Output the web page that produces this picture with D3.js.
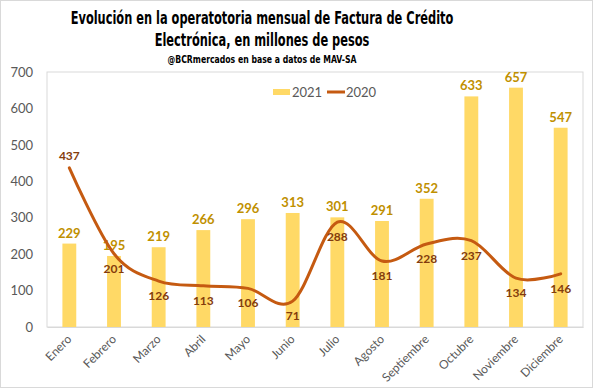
<!DOCTYPE html>
<html>
<head>
<meta charset="utf-8">
<script src="https://cdn.jsdelivr.net/npm/d3@7"></script>
<style>
  body { margin: 0; background: #fff; }
  svg text { font-family: Lato, "Liberation Sans", Arial, sans-serif; }
</style>
</head>
<body>
<div id="chart"></div>
<script>
const months = ["Enero", "Febrero", "Marzo", "Abril", "Mayo", "Junio", "Julio", "Agosto", "Septiembre", "Octubre", "Noviembre", "Diciembre"];
const values2021 = [229, 195, 219, 266, 296, 313, 301, 291, 352, 633, 657, 547];
const values2020 = [437, 201, 126, 113, 106, 71, 288, 181, 228, 237, 134, 146];
const yTicks = [0, 100, 200, 300, 400, 500, 600, 700];

const w = 593, h = 388;
const margin = {left: 47, right: 10, top: 72, bottom: 61};

const svg = d3.select("#chart").append("svg")
    .attr("width", w).attr("height", h);

svg.append("rect")
    .attr("x", 0.5).attr("y", 0.5)
    .attr("width", w - 1).attr("height", h - 1)
    .attr("fill", "#fff").attr("stroke", "#d9d9d9");

const x = d3.scaleBand()
    .domain(months)
    .range([margin.left, w - margin.right])
    .paddingInner(0.69).paddingOuter(0.345);

const y = d3.scaleLinear()
    .domain([0, 700])
    .range([h - margin.bottom, margin.top]);

// plot border
svg.append("rect")
    .attr("x", margin.left).attr("y", margin.top)
    .attr("width", w - margin.left - margin.right)
    .attr("height", h - margin.top - margin.bottom)
    .attr("fill", "none").attr("stroke", "#d9d9d9");

// titles (condensed: squeeze horizontally to the reference width)
const titleFont = "'Liberation Sans Narrow', 'DejaVu Sans Condensed', Arial, sans-serif";
const tx = 262;
const titleLine = (txt, yy, size, width) => {
    const g = svg.append("g");
    const t = g.append("text")
        .attr("text-anchor", "middle")
        .style("font-family", titleFont).style("font-weight", "bold").style("font-size", size + "px")
        .text(txt);
    const k = Math.min(1, width / t.node().getComputedTextLength());
    g.attr("transform", `translate(${tx},${yy}) scale(${k},1)`);
};
titleLine("Evolución en la operatotoria mensual de Factura de Crédito", 24, 18, 383);
titleLine("Electrónica, en millones de pesos", 46, 18, 215);
titleLine("@BCRmercados  en base a datos de MAV-SA", 63, 10, 189);

// y axis
const yAxis = svg.append("g")
    .attr("transform", `translate(${margin.left},0)`)
    .call(d3.axisLeft(y).tickValues(yTicks).tickSize(0).tickPadding(14));
yAxis.select(".domain").remove();
yAxis.selectAll("text").attr("fill", "#595959").style("font-size", "13px");

// x axis
const xAxis = svg.append("g")
    .attr("transform", `translate(0,${h - margin.bottom})`)
    .call(d3.axisBottom(x).tickSize(0));
xAxis.select(".domain").attr("stroke", "#d9d9d9");
xAxis.selectAll("text")
    .attr("fill", "#595959").style("font-size", "12px")
    .attr("text-anchor", "end")
    .attr("dy", null).attr("y", 0)
    .attr("transform", "translate(3,13) rotate(-45)");

// bars 2021
svg.append("g").selectAll("rect")
    .data(values2021)
    .join("rect")
    .attr("x", (d, i) => x(months[i]))
    .attr("y", d => y(d))
    .attr("width", x.bandwidth())
    .attr("height", d => y(0) - y(d))
    .attr("fill", "#ffd966");

svg.append("g").selectAll("text")
    .data(values2021)
    .join("text")
    .attr("x", (d, i) => x(months[i]) + x.bandwidth() / 2)
    .attr("y", d => y(d) - 6)
    .attr("text-anchor", "middle")
    .attr("fill", "#bf9000")
    .style("font-size", "13px").style("font-weight", "bold")
    .text(d => d);

// line 2020
const cx = i => x(months[i]) + x.bandwidth() / 2;
const line = d3.line()
    .x((d, i) => cx(i))
    .y(d => y(d))
    .curve(d3.curveCardinal.tension(0));

svg.append("path")
    .datum(values2020)
    .attr("d", line)
    .attr("fill", "none")
    .attr("stroke", "#c55a11")
    .attr("stroke-width", 3)
    .attr("stroke-linecap", "round");

svg.append("g").selectAll("text")
    .data(values2020)
    .join("text")
    .attr("x", (d, i) => cx(i))
    .attr("y", (d, i) => i === 0 ? y(d) - 8 : y(d) + 19)
    .attr("text-anchor", "middle")
    .attr("fill", "#843c0c")
    .style("font-size", "12px").style("font-weight", "bold")
    .text(d => d);

// legend
const legend = svg.append("g");
legend.append("rect")
    .attr("x", 273).attr("y", 89).attr("width", 17).attr("height", 6)
    .attr("fill", "#ffd966");
legend.append("text")
    .attr("x", 292).attr("y", 97)
    .attr("fill", "#595959").style("font-size", "13px")
    .text("2021");
legend.append("line")
    .attr("x1", 327).attr("x2", 345).attr("y1", 92).attr("y2", 92)
    .attr("stroke", "#c55a11").attr("stroke-width", 3);
legend.append("text")
    .attr("x", 346).attr("y", 97)
    .attr("fill", "#595959").style("font-size", "13px")
    .text("2020");
</script>
</body>
</html>
